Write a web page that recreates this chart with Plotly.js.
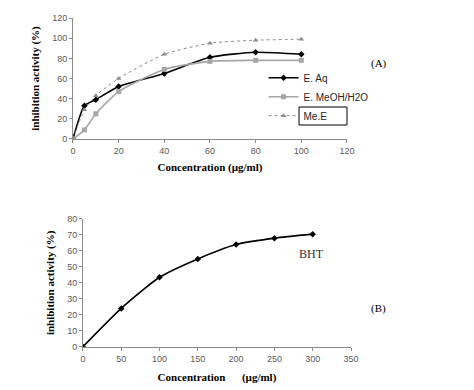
<!DOCTYPE html>
<html><head><meta charset="utf-8">
<script src="https://cdn.plot.ly/plotly-3.0.1.min.js"></script>
<style>html,body{margin:0;padding:0;background:#fff}#chart{width:474px;height:390px}</style>
</head><body><div id="chart"></div>
<script>
// Panel A data
const concA = [0, 5, 10, 20, 40, 60, 80, 100];
const eAq = [0, 33, 39, 52, 65, 81, 86, 84];
const eMeOH = [0, 9, 25, 47, 69, 77, 78, 78];
const meE = [0, 29, 43, 60, 84, 95, 98, 99];
// Panel B data
const concB = [0, 50, 100, 150, 200, 250, 300];
const bht = [0, 24, 43.5, 55, 64, 68, 70.5];

const serif = "Liberation Serif, Times New Roman, serif";
const sans = "Liberation Sans, Arial, sans-serif";
const axCol = "#8c8c8c";
const tickFont = {family: sans, size: 9, color: "#595959"};

const traces = [
  {x: concA, y: eAq, name: "E. Aq", mode: "lines+markers", line: {color: "#000", width: 1.6, shape: "spline", smoothing: 0.6},
   marker: {symbol: "diamond", size: 5, color: "#000"}, xaxis: "x", yaxis: "y"},
  {x: concA, y: eMeOH, name: "E. MeOH/H2O", mode: "lines+markers", line: {color: "#a6a6a6", width: 1.6, shape: "spline", smoothing: 0.6},
   marker: {symbol: "square", size: 5, color: "#a6a6a6"}, xaxis: "x", yaxis: "y"},
  {x: concA, y: meE, name: "Me.E", mode: "lines+markers", line: {color: "#8c8c8c", width: 1, dash: "dot", shape: "spline", smoothing: 0.6},
   marker: {symbol: "triangle-up", size: 5, color: "#8c8c8c"}, xaxis: "x", yaxis: "y"},
  {x: concB, y: bht, name: "BHT", mode: "lines+markers", showlegend: false, line: {color: "#000", width: 1.6, shape: "spline", smoothing: 0.6},
   marker: {symbol: "diamond", size: 5, color: "#000"}, xaxis: "x2", yaxis: "y2"}
];

function ax(extra) {
  return Object.assign({showgrid: false, zeroline: false, showline: true, linecolor: axCol, linewidth: 1,
    ticks: "outside", ticklen: 3, tickcolor: axCol, tickfont: tickFont, fixedrange: true}, extra);
}

const layout = {
  width: 474, height: 390,
  margin: {l: 0, r: 0, t: 0, b: 0},
  paper_bgcolor: "#fff", plot_bgcolor: "#fff",
  showlegend: true,
  legend: {x: 0.556, y: 0.838, xanchor: "left", yanchor: "top", bgcolor: "rgba(0,0,0,0)",
    font: {family: sans, size: 10, color: "#262626"}, tracegroupgap: 0, itemwidth: 30},
  xaxis: ax({domain: [0.154, 0.732], anchor: "y", range: [0, 120], dtick: 20,
    title: {text: "<b>Concentration (µg/ml)</b>", font: {family: serif, size: 11, color: "#000"}, standoff: 8}}),
  yaxis: ax({domain: [0.6436, 0.9538], anchor: "x", range: [0, 120], dtick: 20,
    title: {text: "<b>inhibition activity (%)</b>", font: {family: serif, size: 11, color: "#000"}, standoff: 10}}),
  xaxis2: ax({domain: [0.175, 0.7405], anchor: "y2", range: [0, 350], dtick: 50,
    title: {text: "<b>Concentration      (µg/ml)</b>", font: {family: serif, size: 11, color: "#000"}, standoff: 10}}),
  yaxis2: ax({domain: [0.111, 0.4385], anchor: "x2", range: [0, 80], dtick: 10,
    title: {text: "<b>inhibition activity (%)</b>", font: {family: serif, size: 11, color: "#000"}, standoff: 10}}),
  annotations: [
    {xref: "paper", yref: "paper", x: 379/474, y: 1 - 64/390, text: "(A)", showarrow: false,
     font: {family: serif, size: 11, color: "#000"}, xanchor: "center", yanchor: "middle"},
    {xref: "paper", yref: "paper", x: 378/474, y: 1 - 308/390, text: "(B)", showarrow: false,
     font: {family: serif, size: 11, color: "#000"}, xanchor: "center", yanchor: "middle"},
    {xref: "paper", yref: "paper", x: 311/474, y: 1 - 254/390, text: "BHT", showarrow: false,
     font: {family: serif, size: 12, color: "#333"}, xanchor: "center", yanchor: "middle"}
  ],
  shapes: [
    {type: "rect", xref: "paper", yref: "paper", x0: 299/474, x1: 347/474, y0: 1 - 125/390, y1: 1 - 107/390,
     line: {color: "#000", width: 1}, fillcolor: "rgba(0,0,0,0)"}
  ]
};

Plotly.newPlot("chart", traces, layout, {displayModeBar: false, staticPlot: true});
</script></body></html>
